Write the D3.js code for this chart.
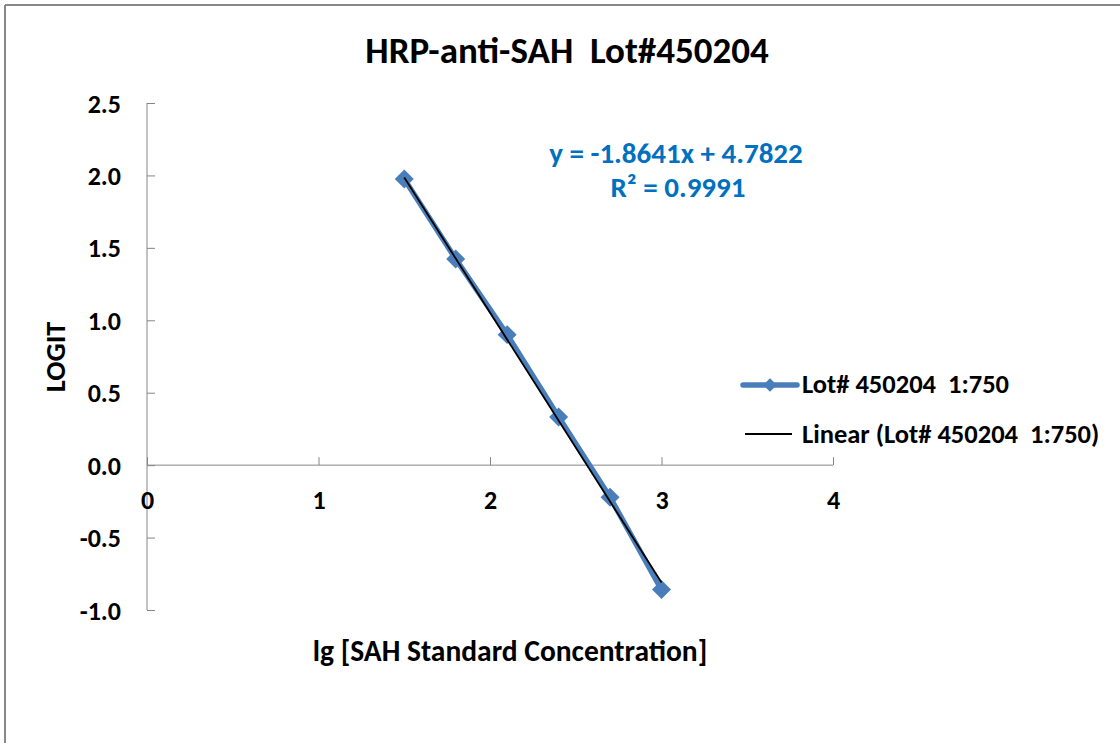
<!DOCTYPE html>
<html>
<head>
<meta charset="utf-8">
<script src="https://cdn.jsdelivr.net/npm/d3@7"></script>
<style>
  body { margin: 0; background: #fff; }
  svg { display: block; font-family: Carlito, 'Liberation Sans Narrow', Lato, sans-serif; font-weight: bold; }
  .axis path, .axis line { stroke: #868686; }
  .axis text { fill: #000; font-size: 26px; font-weight: bold; font-family: Carlito, 'Liberation Sans Narrow', Lato, sans-serif; }
</style>
</head>
<body>
<div id="plot"></div>
<script>
// values
var lgConc = [1.5, 1.8, 2.1, 2.4, 2.7, 3.0]
var logit = [1.975, 1.423, 0.901, 0.333, -0.222, -0.859]
var slope = -1.8641
var intercept = 4.7822
var rSquared = '0.9991'
var xTicks = [0, 1, 2, 3, 4]
var yTicks = [-1.0, -0.5, 0.0, 0.5, 1.0, 1.5, 2.0, 2.5]
var seriesName = 'Lot# 450204\u00a0\u00a01:750'
var blue = '#4a7ebb'

var width = 1120
var height = 743

var svg = d3
  .select('#plot')
  .append('svg')
  .attr('width', width)
  .attr('height', height)

// chart frame (only left and top edges show)
svg.append('line').attr('x1', 5).attr('x2', width).attr('y1', 5).attr('y2', 5)
  .style('stroke', '#888').style('stroke-width', 2)
svg.append('line').attr('x1', 5).attr('x2', 5).attr('y1', 5).attr('y2', height)
  .style('stroke', '#888').style('stroke-width', 2)

var xScale = d3.scaleLinear().domain([0, 4]).range([147, 833])
var yScale = d3.scaleLinear().domain([-1, 2.5]).range([610, 103])

// y axis, ticks pointing inward
var yAxis = d3.axisRight(yScale)
  .tickValues(yTicks)
  .tickSize(8)
  .tickFormat(function(d) { return d.toFixed(1) })
var gy = svg.append('g')
  .attr('class', 'axis')
  .attr('transform', 'translate(' + xScale(0) + ',0)')
  .call(yAxis)
gy.select('.domain').attr('d', 'M0,' + yScale(-1) + 'V' + yScale(2.5))
gy.selectAll('text').attr('x', -26).attr('dy', '0.35em').style('text-anchor', 'end')
gy.selectAll('.tick line').attr('x1', 0).attr('x2', 8)

// x axis sits on y = 0, ticks pointing up, labels below
var xAxis = d3.axisTop(xScale).tickValues(xTicks).tickSize(8).tickFormat(d3.format('d'))
var gx = svg.append('g')
  .attr('class', 'axis')
  .attr('transform', 'translate(0,' + yScale(0) + ')')
  .call(xAxis)
gx.select('.domain').attr('d', 'M' + xScale(0) + ',0H' + xScale(4))
gx.selectAll('text').attr('y', 44).attr('dy', 0)

// data series
var pts = lgConc.map(function(d, i) {
  return { x: d, y: logit[i] }
})
var plotLine = d3.line()
  .x(function(d) { return xScale(d.x) })
  .y(function(d) { return yScale(d.y) })

svg.append('path')
  .datum(pts)
  .attr('d', plotLine)
  .style('fill', 'none')
  .style('stroke', blue)
  .style('stroke-width', 5.5)
  .style('stroke-linejoin', 'round')

var diamond = d3.symbol().type(d3.symbolDiamond2).size(230)
svg.selectAll('.marker')
  .data(pts)
  .enter()
  .append('path')
  .attr('class', 'marker')
  .attr('d', diamond)
  .attr('transform', function(d) {
    return 'translate(' + xScale(d.x) + ',' + yScale(d.y) + ')'
  })
  .style('fill', blue)

// linear trend line
var xExt = d3.extent(lgConc)
var trend = xExt.map(function(x) {
  return { x: x, y: slope * x + intercept }
})
svg.append('path')
  .datum(trend)
  .attr('d', plotLine)
  .style('fill', 'none')
  .style('stroke', '#000')
  .style('stroke-width', 1.8)

// trend equation
svg.append('text')
  .attr('x', 676).attr('y', 163)
  .attr('text-anchor', 'middle')
  .style('font-size', '29px').style('fill', '#0070c0')
  .text('y = ' + slope + 'x + ' + intercept)
svg.append('text')
  .attr('x', 678).attr('y', 197)
  .attr('text-anchor', 'middle')
  .style('font-size', '29px').style('fill', '#0070c0')
  .text('R\u00b2 = ' + rSquared)

// title and axis titles
svg.append('text')
  .attr('x', 567).attr('y', 63)
  .attr('text-anchor', 'middle')
  .style('font-size', '37px')
  .text('HRP-anti-SAH\u00a0\u00a0Lot#450204')

svg.append('text')
  .attr('x', 510).attr('y', 661)
  .attr('text-anchor', 'middle')
  .style('font-size', '29.5px')
  .text('lg [SAH Standard Concentration]')

svg.append('text')
  .attr('transform', 'translate(65,357) rotate(-90)')
  .attr('text-anchor', 'middle')
  .style('font-size', '28.5px')
  .text('LOGIT')

// legend
var legend = svg.append('g').attr('transform', 'translate(743,0)')
legend.append('line')
  .attr('x1', 0).attr('x2', 54).attr('y1', 385).attr('y2', 385)
  .style('stroke', blue).style('stroke-width', 5.5).style('stroke-linecap', 'round')
legend.append('path')
  .attr('d', d3.symbol().type(d3.symbolDiamond2).size(120))
  .attr('transform', 'translate(27,385)')
  .style('fill', blue)
legend.append('text')
  .attr('x', 59).attr('y', 393)
  .style('font-size', '26.5px')
  .text(seriesName)
legend.append('line')
  .attr('x1', 2).attr('x2', 49).attr('y1', 434).attr('y2', 434)
  .style('stroke', '#000').style('stroke-width', 1.8)
legend.append('text')
  .attr('x', 59).attr('y', 443)
  .style('font-size', '26.5px')
  .text('Linear (' + seriesName + ')')
</script>
</body>
</html>
